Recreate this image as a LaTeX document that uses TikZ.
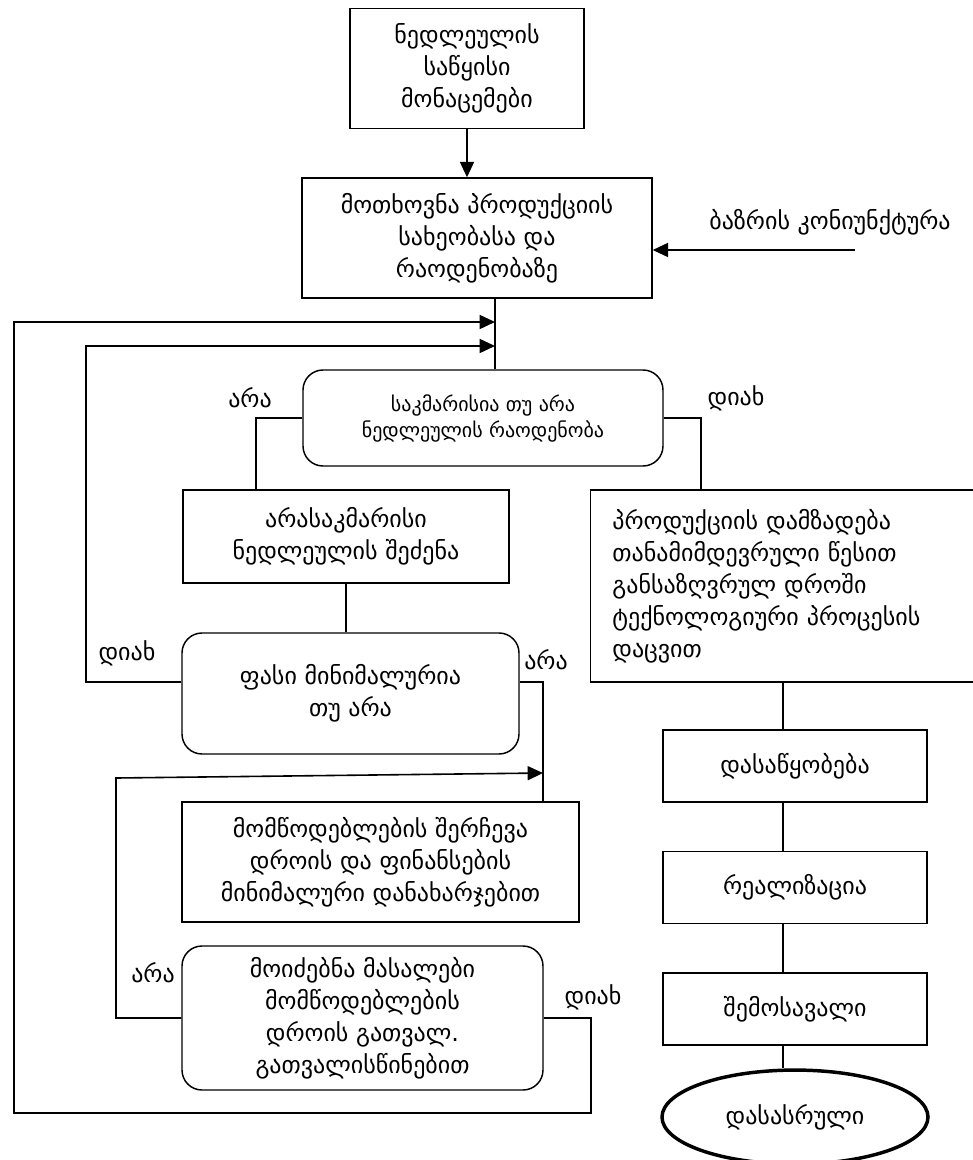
\documentclass[tikz,border=0pt]{standalone}
\usepackage{fontspec}
\setmainfont{DejaVu Sans}
\usetikzlibrary{arrows.meta}
\usetikzlibrary{positioning}
\usetikzlibrary{shapes.geometric}
\tikzset{>={Triangle[length=11.5pt,width=10.5pt]}}

\begin{document}
\begin{tikzpicture}[x=0.75pt,y=-0.75pt,node distance=36pt,
    box/.style={draw,line width=1.1pt,align=center,font=\fontsize{18pt}{24pt}\selectfont},
    dec/.style={box,rounded corners=15pt},
    col/.style={box,minimum width=198pt,minimum height=54pt},
    lbl/.style={font=\fontsize{18pt}{24pt}\selectfont}]
    \useasboundingbox (0,0) rectangle (972,1160);
    \node [box,minimum width=262.5pt,minimum height=90pt] (Req) at (477,238)
        {მოთხოვნა პროდუქციის\\სახეობასა და\\რაოდენობაზე};
    \node [box,minimum width=175.5pt,minimum height=90pt,above=of Req,xshift=-7.5pt] (Src)
        {ნედლეულის\\საწყისი\\მონაცემები};
    \node [lbl] (Mkt) at (830,222) {ბაზრის კონიუნქტურა};
    \coordinate (MktIn) at (855,250);
    \node [dec,minimum width=270pt,minimum height=72pt,font=\fontsize{15pt}{19.5pt}\selectfont] (Enough) at (483,418)
        {საკმარისია თუ არა\\ნედლეულის რაოდენობა};
    \node [box,minimum width=244.5pt,minimum height=69.75pt] (Buy) at (346,536.5)
        {არასაკმარისი\\ნედლეულის შეძენა};
    \node [box,anchor=west,minimum width=307.5pt,minimum height=144pt,text width=275pt,align=left,inner xsep=15pt] (Make) at (590,586)
        {პროდუქციის დამზადება\\თანამიმდევრული წესით\\განსაზღვრულ დროში\\ტექნოლოგიური პროცესის\\დაცვით};
    \node [dec,minimum width=252.75pt,minimum height=90.75pt] (Price) at (350.5,693.5)
        {ფასი მინიმალურია\\თუ არა};
    \node [box,minimum width=297.75pt,minimum height=90pt] (Supp) at (380.5,862)
        {მომწოდებლების შერჩევა\\დროის და ფინანსების\\მინიმალური დანახარჯებით};
    \node [dec,minimum width=270.75pt,minimum height=108pt] (Found) at (362.5,1018)
        {მოიძებნა მასალები\\მომწოდებლების\\დროის გათვალ.\\გათვალისწინებით};
    \node [col] (Store) at (795,766) {დასაწყობება};
    \node [col,below=of Store] (Sell) {რეალიზაცია};
    \node [col,below=of Sell] (Income) {შემოსავალი};
    \node [draw,ellipse,line width=2.6pt,minimum width=199.5pt,minimum height=70.5pt,
        font=\fontsize{18pt}{24pt}\selectfont,below=17pt of Income] (Fin) {დასასრული};
    \node [lbl] (No1) at (250,398) {არა};
    \node [lbl] (Yes1) at (736,398) {დიახ};
    \node [lbl] (Yes2) at (127,653) {დიახ};
    \node [lbl] (No2) at (546,660) {არა};
    \node [lbl] (No3) at (153,973) {არა};
    \node [lbl] (Yes3) at (593,997) {დიახ};
    \coordinate (T) at (495,0);
    \coordinate (L1) at (256,0);
    \coordinate (R1) at (701,0);
    \coordinate (R2) at (543,0);
    \coordinate (R3) at (591,1113);
    \coordinate (O) at (14,322);
    \coordinate (I) at (86,346);
    \coordinate (L3) at (116,778);
    \coordinate (A3) at (543,773);
    \coordinate (C) at (783,0);
    \draw [->,line width=1.2pt] (Src.south) -- (Src.south |- Req.north);
    \draw [->,line width=1.2pt] (MktIn) -- (MktIn -| Req.east);
    \draw [line width=0.9pt] (Req.south -| T) -- (Enough.north -| T);
    \draw [line width=0.9pt] (Enough.west) -| (Buy.north -| L1);
    \draw [line width=0.9pt] (Enough.east) -| (Make.north -| R1);
    \draw [line width=0.9pt] (Buy.south) -- (Buy.south |- Price.north);
    \draw [->,line width=1.2pt] ([yshift=8.6pt]Price.west) -| (I) -- (I -| T);
    \draw [line width=0.9pt] ([yshift=8.6pt]Price.east) -| (Supp.north -| R2);
    \draw [->,line width=1.2pt] (Found.west) -| (L3) -- (A3);
    \draw [->,line width=1.2pt] (Found.east) -| (R3) -| (O) -- (O -| T);
    \draw [line width=0.9pt] (Make.south -| C) -- (Store.north -| C);
    \draw [line width=0.9pt] (Store.south -| C) -- (Sell.north -| C);
    \draw [line width=0.9pt] (Sell.south -| C) -- (Income.north -| C);
    \draw [line width=0.9pt] (Income.south -| C) -- (Fin.north -| C);
\end{tikzpicture}
\end{document}
